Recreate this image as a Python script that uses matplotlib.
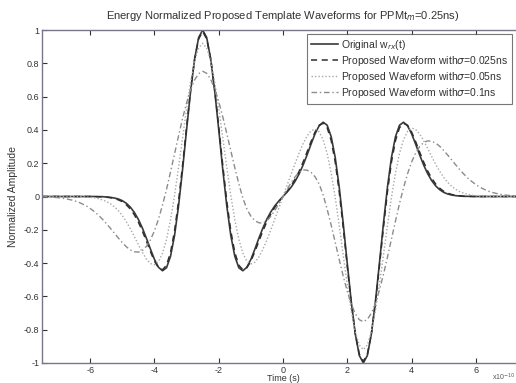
import numpy as np
import matplotlib
matplotlib.use("Agg")
import matplotlib.pyplot as plt

plt.rcParams["font.family"] = ["Liberation Sans", "DejaVu Sans"]

# time axis in units of 1e-10 s, sampled every 0.125
t = np.arange(-7.5, 7.5001, 0.125)

original = [
    0, 0, 0, 0, 0, 0, 0, 0, 0, 0, 0, 0, 0, 0,
    -0.001, -0.001, -0.003, -0.005, -0.009, -0.015, -0.025, -0.041, -0.064, -0.096,
    -0.138, -0.190, -0.251, -0.316, -0.378, -0.425, -0.446, -0.428, -0.359, -0.234,
    -0.056, 0.163, 0.402, 0.633, 0.826, 0.955, 1.0, 0.955, 0.826, 0.633,
    0.402, 0.163, -0.056, -0.234, -0.359, -0.428, -0.446, -0.425, -0.378, -0.316,
    -0.250, -0.189, -0.135, -0.091, -0.055, -0.026, 0,
    0.026, 0.055, 0.091, 0.135, 0.189, 0.250, 0.316, 0.378, 0.425, 0.446,
    0.428, 0.359, 0.234, 0.056, -0.163, -0.402, -0.633, -0.826, -0.955, -1.0,
    -0.955, -0.826, -0.633, -0.402, -0.163, 0.056, 0.234, 0.359, 0.428, 0.446,
    0.425, 0.378, 0.316, 0.251, 0.190, 0.138, 0.096, 0.064, 0.041, 0.025,
    0.015, 0.009, 0.005, 0.003, 0.001, 0.001,
    0, 0, 0, 0, 0, 0, 0, 0, 0, 0, 0, 0, 0, 0,
]
sigma_025 = [
    0, 0, 0, 0, 0, 0, 0, 0, 0, 0, 0, 0, 0,
    -0.001, -0.001, -0.002, -0.004, -0.007, -0.012, -0.020, -0.031, -0.050, -0.075,
    -0.110, -0.154, -0.208, -0.268, -0.331, -0.388, -0.428, -0.440, -0.413, -0.336,
    -0.207, -0.028, 0.188, 0.419, 0.641, 0.825, 0.947, 0.990, 0.947, 0.825,
    0.641, 0.419, 0.188, -0.028, -0.207, -0.336, -0.413, -0.440, -0.428, -0.388,
    -0.331, -0.268, -0.206, -0.150, -0.104, -0.063, -0.030, 0,
    0.030, 0.063, 0.104, 0.150, 0.206, 0.268, 0.331, 0.388, 0.428, 0.440,
    0.413, 0.336, 0.207, 0.028, -0.188, -0.419, -0.641, -0.825, -0.947, -0.990,
    -0.947, -0.825, -0.641, -0.419, -0.188, 0.028, 0.207, 0.336, 0.413, 0.440,
    0.428, 0.388, 0.331, 0.268, 0.208, 0.154, 0.110, 0.075, 0.050, 0.031,
    0.020, 0.012, 0.007, 0.004, 0.002, 0.001, 0.001,
    0, 0, 0, 0, 0, 0, 0, 0, 0, 0, 0, 0, 0,
]
sigma_05 = [
    0, 0, 0, 0, 0, 0, 0, 0,
    -0.001, -0.001, -0.002, -0.003, -0.005, -0.008, -0.013, -0.020, -0.029, -0.043,
    -0.061, -0.085, -0.115, -0.152, -0.194, -0.241, -0.290, -0.336, -0.376, -0.403,
    -0.410, -0.391, -0.341, -0.258, -0.140, 0.006, 0.175, 0.354, 0.530, 0.688,
    0.812, 0.892, 0.920, 0.892, 0.812, 0.688, 0.530, 0.354, 0.175, 0.007,
    -0.140, -0.257, -0.340, -0.388, -0.405, -0.395, -0.363, -0.317, -0.260, -0.198,
    -0.133, -0.067, 0,
    0.067, 0.133, 0.198, 0.260, 0.317, 0.363, 0.395, 0.405, 0.388, 0.340,
    0.257, 0.140, -0.007, -0.175, -0.354, -0.530, -0.688, -0.812, -0.892, -0.920,
    -0.892, -0.812, -0.688, -0.530, -0.354, -0.175, -0.006, 0.140, 0.258, 0.341,
    0.391, 0.410, 0.403, 0.376, 0.336, 0.290, 0.241, 0.194, 0.152, 0.115,
    0.085, 0.061, 0.043, 0.029, 0.020, 0.013, 0.008, 0.005, 0.003, 0.002,
    0.001, 0.001,
    0, 0, 0, 0, 0, 0, 0, 0,
]
sigma_1 = [
    -0.002, -0.002, -0.003, -0.005, -0.007, -0.010, -0.014, -0.019, -0.025, -0.033,
    -0.044, -0.056, -0.072, -0.090, -0.111, -0.135, -0.162, -0.190, -0.220, -0.249,
    -0.277, -0.302, -0.321, -0.332, -0.334, -0.324, -0.299, -0.260, -0.206, -0.136,
    -0.052, 0.043, 0.148, 0.256, 0.365, 0.469, 0.563, 0.642, 0.701, 0.738,
    0.752, 0.740, 0.704, 0.646, 0.570, 0.479, 0.379, 0.275, 0.173, 0.077,
    -0.009, -0.075, -0.118, -0.145, -0.158, -0.160, -0.145, -0.118, -0.082, -0.042,
    0,
    0.042, 0.082, 0.118, 0.145, 0.160, 0.158, 0.145, 0.118, 0.075, 0.009,
    -0.077, -0.173, -0.275, -0.379, -0.479, -0.570, -0.646, -0.704, -0.740, -0.752,
    -0.738, -0.701, -0.642, -0.563, -0.469, -0.365, -0.256, -0.148, -0.043, 0.052,
    0.136, 0.206, 0.260, 0.299, 0.324, 0.334, 0.332, 0.321, 0.302, 0.277,
    0.249, 0.220, 0.190, 0.162, 0.135, 0.111, 0.090, 0.072, 0.056, 0.044,
    0.033, 0.025, 0.019, 0.014, 0.010, 0.007, 0.005, 0.003, 0.002, 0.002,
]

labels = [
    r"Original w$_{rx}$(t)",
    r"Proposed Waveform with$\sigma$=0.025ns",
    r"Proposed Waveform with$\sigma$=0.05ns",
    r"Proposed Waveform with$\sigma$=0.1ns",
]

fig = plt.figure(figsize=(5.16, 3.83), dpi=100)
ax = fig.add_axes([42 / 516, 1 - 363 / 383, 482 / 516, 333 / 383])

ax.plot(t, original, color="#3a3a3a", lw=1.2, ls="-", label=labels[0])
ax.plot(t, sigma_025, color="#2e2e2e", lw=1.1, ls=(0, (4, 3)), label=labels[1])
ax.plot(t, sigma_05, color="#a8a8a8", lw=1.0, ls=(0, (1, 1.5)), label=labels[2])
ax.plot(t, sigma_1, color="#8c8c8c", lw=1.0, ls=(0, (4, 2, 1, 2)), label=labels[3])

ax.set_xlim(-7.5, 7.5)
ax.set_ylim(-1, 1)
ax.set_xticks([-6, -4, -2, 0, 2, 4, 6])
ax.set_xticklabels(["-6", "-4", "-2", "0", "2", "4", "6"])
ax.set_yticks(np.arange(-1, 1.01, 0.2))
ax.set_yticklabels(["-1", "-0.8", "-0.6", "-0.4", "-0.2", "0", "0.2", "0.4", "0.6", "0.8", "1"])
ax.tick_params(direction="in", length=3.5, width=0.8, labelsize=6.5, colors="#333333",
               top=True, right=True, pad=2)
for s in ax.spines.values():
    s.set_color("#77778a")
    s.set_linewidth(1.0)

ax.set_title("Energy Normalized Proposed Template Waveforms for PPMt$_m$=0.25ns)",
             fontsize=8, color="#333333", pad=8)
ax.set_ylabel("Normalized Amplitude", fontsize=7.5, color="#333333", labelpad=4)
# x label sits right at the bottom edge, as in the reference
fig.text(283 / 516, 0.001, "Time (s)", fontsize=6.5, color="#333333",
         ha="center", va="bottom")
fig.text(0.998, 0.001, r"x10$^{-10}$", fontsize=5, color="#555555",
         ha="right", va="bottom")

leg = ax.legend(loc="upper right", bbox_to_anchor=(512 / 516, 1 - 34 / 383),
                bbox_transform=fig.transFigure, fontsize=7.5, frameon=True,
                fancybox=False, borderaxespad=0, handlelength=2.6,
                handletextpad=0.3, labelspacing=0.2, borderpad=0.35)
leg.get_frame().set_edgecolor("#555555")
leg.get_frame().set_linewidth(0.8)
for txt in leg.get_texts():
    txt.set_color("#333333")

fig.savefig("out.png", dpi=100)
